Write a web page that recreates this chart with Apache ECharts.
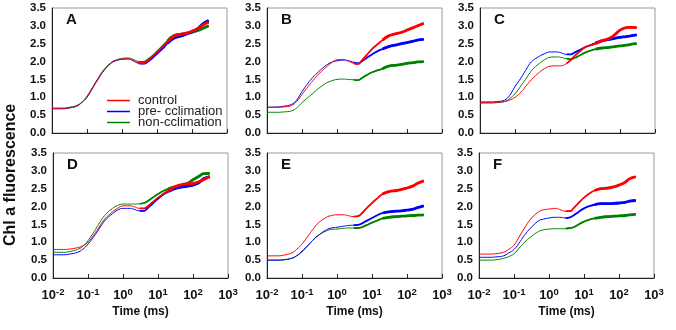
<!DOCTYPE html>
<html><head><meta charset="utf-8">
<script src="https://cdn.jsdelivr.net/npm/echarts@6/dist/echarts.min.js"></script>
<style>html,body{margin:0;padding:0;background:#fff}#c{width:676px;height:330px}</style>
</head><body><div id="c"></div>
<script>
// time points (ms)
const time = [0.01,0.02,0.03,0.05,0.07,0.1,0.15,0.2,0.3,0.5,0.7,1,1.5,2,3,4,5,7,10,15,20,30,50,70,100,150,200,300];
const seriesNames = ['control','pre- cclimation','non-cclimation'];
const panelLabels = ['A','B','C','D','E','F'];
const xTickExponents = ['-2','-1','0','1','2','3'];
const yTicks = [0,0.5,1,1.5,2,2.5,3,3.5];

// Panel A
const A_control = [0.68,0.68,0.70,0.75,0.85,1.02,1.30,1.50,1.75,1.97,2.04,2.07,2.08,2.04,1.97,1.96,2.00,2.12,2.26,2.43,2.56,2.70,2.77,2.80,2.85,2.93,3.02,3.10];
const A_pre     = [0.68,0.68,0.70,0.75,0.85,1.00,1.28,1.48,1.74,1.96,2.03,2.06,2.07,2.03,1.95,1.94,1.97,2.08,2.22,2.38,2.51,2.65,2.72,2.77,2.84,2.93,3.05,3.15];
const A_non     = [0.70,0.70,0.72,0.77,0.86,1.03,1.31,1.51,1.77,1.98,2.05,2.09,2.10,2.07,2.00,1.99,2.03,2.14,2.28,2.45,2.58,2.72,2.77,2.79,2.82,2.87,2.93,3.00];
// Panel B
const B_control = [0.72,0.72,0.73,0.77,0.88,1.08,1.30,1.45,1.65,1.85,1.97,2.05,2.06,2.02,1.95,1.93,2.02,2.18,2.35,2.50,2.60,2.72,2.78,2.82,2.88,2.95,3.00,3.07];
const B_pre     = [0.72,0.73,0.75,0.80,0.92,1.16,1.40,1.55,1.72,1.90,1.98,2.02,2.04,2.03,1.98,1.95,2.00,2.10,2.20,2.30,2.35,2.42,2.47,2.50,2.53,2.57,2.60,2.62];
const B_non     = [0.58,0.58,0.59,0.62,0.70,0.85,1.00,1.10,1.25,1.40,1.46,1.50,1.51,1.50,1.49,1.48,1.53,1.62,1.70,1.76,1.80,1.87,1.90,1.92,1.95,1.97,1.99,2.00];
// Panel C
const C_control = [0.85,0.85,0.86,0.88,0.92,1.00,1.15,1.30,1.50,1.70,1.80,1.87,1.88,1.88,1.95,2.05,2.15,2.28,2.40,2.46,2.50,2.58,2.65,2.75,2.88,2.95,2.96,2.95];
const C_pre     = [0.87,0.87,0.88,0.92,1.05,1.30,1.55,1.75,2.00,2.15,2.22,2.27,2.27,2.25,2.20,2.20,2.25,2.32,2.40,2.47,2.52,2.58,2.62,2.65,2.68,2.70,2.72,2.75];
const C_non     = [0.84,0.84,0.85,0.88,0.96,1.10,1.33,1.50,1.75,1.95,2.05,2.12,2.13,2.12,2.08,2.07,2.10,2.17,2.25,2.31,2.35,2.38,2.40,2.42,2.44,2.46,2.48,2.50];
// Panel D
const D_control = [0.80,0.80,0.81,0.85,0.90,1.00,1.22,1.40,1.65,1.85,1.95,2.02,2.02,2.00,1.95,1.95,2.00,2.12,2.25,2.37,2.45,2.55,2.62,2.64,2.65,2.70,2.75,2.85];
const D_pre     = [0.65,0.65,0.67,0.72,0.80,0.95,1.17,1.35,1.60,1.80,1.90,1.95,1.95,1.93,1.88,1.88,1.95,2.08,2.22,2.35,2.42,2.50,2.55,2.57,2.60,2.67,2.78,2.83];
const D_non     = [0.72,0.72,0.74,0.80,0.88,1.05,1.30,1.50,1.75,1.95,2.03,2.07,2.07,2.07,2.08,2.10,2.15,2.25,2.35,2.45,2.50,2.55,2.60,2.65,2.75,2.85,2.92,2.93];
// Panel E
const E_control = [0.62,0.62,0.64,0.70,0.80,0.95,1.18,1.35,1.55,1.70,1.75,1.77,1.77,1.75,1.72,1.73,1.80,1.95,2.10,2.25,2.35,2.42,2.45,2.48,2.52,2.58,2.65,2.72];
const E_pre     = [0.50,0.50,0.51,0.55,0.62,0.75,0.92,1.05,1.20,1.35,1.40,1.42,1.45,1.47,1.48,1.49,1.52,1.60,1.68,1.77,1.82,1.85,1.87,1.88,1.90,1.93,1.97,2.02];
const E_non     = [0.50,0.50,0.51,0.55,0.62,0.73,0.91,1.05,1.20,1.32,1.36,1.37,1.39,1.40,1.40,1.40,1.42,1.48,1.55,1.62,1.67,1.70,1.72,1.73,1.74,1.75,1.76,1.77];
// Panel F
const F_control = [0.67,0.67,0.68,0.72,0.80,0.92,1.20,1.40,1.65,1.85,1.91,1.93,1.95,1.92,1.87,1.87,1.95,2.10,2.25,2.38,2.45,2.50,2.52,2.55,2.60,2.68,2.78,2.83];
const F_pre     = [0.58,0.58,0.59,0.62,0.70,0.80,1.02,1.20,1.40,1.60,1.65,1.68,1.70,1.70,1.68,1.70,1.75,1.85,1.95,2.02,2.05,2.08,2.08,2.09,2.10,2.12,2.15,2.17];
const F_non     = [0.50,0.50,0.51,0.55,0.60,0.68,0.87,1.00,1.15,1.30,1.35,1.37,1.38,1.38,1.38,1.40,1.42,1.50,1.58,1.64,1.67,1.70,1.72,1.73,1.74,1.75,1.77,1.78];

const colors = ['#ff0000','#0000ff','#008000'];
const panels = [
  [A_control,A_pre,A_non],[B_control,B_pre,B_non],[C_control,C_pre,C_non],
  [D_control,D_pre,D_non],[E_control,E_pre,E_non],[F_control,F_pre,F_non]
];
const lefts = [52,267,480,53,267,479];
const tops = [8,8,8,153,153,153];
const W = 175, H = 125;
const FONT = 'Liberation Sans, Arial, sans-serif';

const grid=[], xAxis=[], yAxis=[], series=[], graphic=[];
// thickness layers: [start time, width] — the traces look denser/thicker toward the end
const layers = [[0, 1], [3, 1.8], [20, 2.8]];
panels.forEach((p, i) => {
  grid.push({left: lefts[i], top: tops[i], width: W, height: H, show: true, borderColor: '#999', borderWidth: 1, backgroundColor:'transparent'});
  const bottomRow = i >= 3;
  xAxis.push({
    type: 'log', logBase: 10, min: 0.01, max: 1000, gridIndex: i,
    axisLine: {show: true, onZero: false, lineStyle: {color: '#222', width: 1}},
    axisTick: {show: true, inside: true, length: 4, lineStyle: {color: '#222'}},
    splitLine: {show: false},
    axisLabel: {
      show: bottomRow, color: '#111', fontSize: 13, fontWeight: 'bold', fontFamily: FONT, margin: 9,
      formatter: v => { const e = xTickExponents[Math.round(Math.log10(v)) + 2]; return '10{s|' + e + '}'; },
      rich: {s: {fontSize: 9.5, fontWeight: 'bold', fontFamily: FONT, color: '#111', verticalAlign: 'top', padding: [0,0,7,0]}}
    },
    name: bottomRow ? 'Time (ms)' : '', nameLocation: 'middle', nameGap: 28,
    nameTextStyle: {fontSize: 12, fontWeight: 'bold', color: '#111', fontFamily: FONT}
  });
  yAxis.push({
    type: 'value', min: yTicks[0], max: yTicks[yTicks.length-1], interval: 0.5, gridIndex: i,
    axisLine: {show: true, lineStyle: {color: '#222', width: 1}},
    axisTick: {show: false}, splitLine: {show: false},
    axisLabel: {color: '#111', fontSize: 11.5, fontWeight: 'bold', fontFamily: FONT, margin: 6, formatter: v => v.toFixed(1)}
  });
  p.forEach((vals, k) => {
    const data = time.map((t, j) => [t, vals[j]]);
    layers.forEach(([t0, w], li) => {
      series.push({type: 'line', name: li === 0 ? seriesNames[k] : undefined, xAxisIndex: i, yAxisIndex: i,
        data: data.filter(d => d[0] >= t0), showSymbol: false, smooth: 0.45,
        lineStyle: {color: colors[k], width: w}, itemStyle: {color: colors[k]}, z: 5 - k, silent: true, animation: false});
    });
  });
  graphic.push({type: 'text', left: lefts[i] + 14, top: tops[i] + 4, style: {text: panelLabels[i], font: 'bold 15px ' + FONT, fill: '#111'}});
});

graphic.push({type: 'text', x: 3, y: 246, rotation: Math.PI/2, style: {text: 'Chl a fluorescence', font: 'bold 16px ' + FONT, fill: '#111'}});

// one legend per entry so the rows can sit 11px apart as in the figure
const legend = seriesNames.map((n, k) => ({
  data: [{name: n}], orient: 'vertical', left: 107, top: 94 + k * 11, itemGap: 0, itemWidth: 23, itemHeight: 1.5,
  icon: 'rect', padding: 0,
  textStyle: {fontSize: 13, color: '#222', fontFamily: FONT, padding: [0,0,0,3]},
  selectedMode: false
}));

const chart = echarts.init(document.getElementById('c'), null, {renderer: 'canvas'});
chart.setOption({animation: false, grid, xAxis, yAxis, series, graphic, legend});
</script></body></html>
